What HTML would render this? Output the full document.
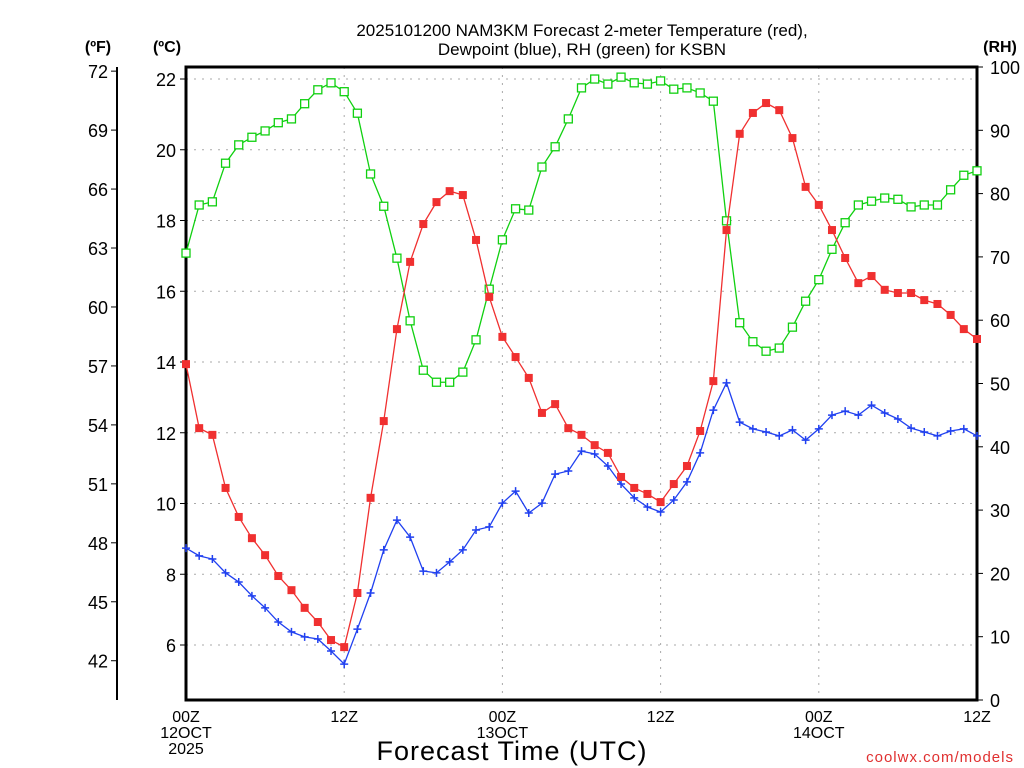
<!DOCTYPE html>
<html><head><meta charset="utf-8"><style>
html,body{margin:0;padding:0;background:#fff;width:1024px;height:768px;overflow:hidden}
svg text{font-family:"Liberation Sans","DejaVu Sans",sans-serif}
</style></head><body>
<svg id="chart" width="1024" height="768" xmlns="http://www.w3.org/2000/svg">
<text x="582" y="36" text-anchor="middle" font-size="17">2025101200 NAM3KM Forecast 2-meter Temperature (red),</text>
<text x="582" y="55" text-anchor="middle" font-size="17">Dewpoint (blue), RH (green) for KSBN</text>
<text x="98" y="52" text-anchor="middle" font-size="16" font-weight="bold">(ºF)</text>
<text x="167" y="52" text-anchor="middle" font-size="16" font-weight="bold">(ºC)</text>
<text x="1000" y="52" text-anchor="middle" font-size="16" font-weight="bold">(RH)</text>
<text x="512" y="760" text-anchor="middle" font-size="27" letter-spacing="1">Forecast Time (UTC)</text>
<text x="1014" y="762" text-anchor="end" font-size="15" fill="#e03030" letter-spacing="1">coolwx.com/models</text>
<g id="g"></g>
</svg>
<script>
const hours=[...Array(61).keys()];
const temp=[13.94,12.13,11.94,10.44,9.62,9.02,8.54,7.95,7.55,7.05,6.65,6.14,5.94,7.47,10.16,12.33,14.93,16.83,17.90,18.52,18.83,18.72,17.45,15.84,14.71,14.14,13.55,12.56,12.81,12.13,11.94,11.65,11.43,10.75,10.44,10.27,10.04,10.55,11.06,12.05,13.46,17.73,20.45,21.04,21.32,21.12,20.33,18.95,18.44,17.73,16.94,16.23,16.43,16.04,15.95,15.95,15.75,15.64,15.33,14.93,14.65];
const dewp=[8.74,8.52,8.43,8.04,7.78,7.39,7.05,6.65,6.37,6.23,6.17,5.83,5.46,6.45,7.47,8.69,9.53,9.05,8.09,8.04,8.35,8.69,9.25,9.34,10.01,10.35,9.73,10.01,10.83,10.92,11.48,11.40,11.06,10.55,10.16,9.90,9.76,10.10,10.61,11.43,12.64,13.41,12.30,12.11,12.02,11.91,12.08,11.79,12.11,12.50,12.61,12.50,12.78,12.56,12.39,12.13,12.02,11.91,12.05,12.11,11.91];
const rh=[70.6,78.2,78.7,84.8,87.7,88.9,89.9,91.2,91.8,94.2,96.4,97.5,96.1,92.7,83.1,78.0,69.8,59.9,52.1,50.2,50.2,51.8,56.9,64.9,72.7,77.6,77.4,84.2,87.4,91.8,96.7,98.1,97.3,98.4,97.5,97.3,97.8,96.5,96.7,95.9,94.6,75.7,59.6,56.6,55.1,55.6,58.9,63.0,66.4,71.2,75.4,78.2,78.8,79.3,79.1,77.9,78.2,78.2,80.6,82.9,83.6];
const cTicks=[6,8,10,12,14,16,18,20,22];
const fTicks=[42,45,48,51,54,57,60,63,66,69,72];
const rhTicks=[0,10,20,30,40,50,60,70,80,90,100];
const xTickHours=[0,12,24,36,48,60];
const xTickLabels=[["00Z","12OCT","2025"],["12Z"],["00Z","13OCT"],["12Z"],["00Z","14OCT"],["12Z"]];

const L=186,R=977,T=67,B=700;
const X=h=>L+(h/60)*(R-L);
const YC=c=>79+(22-c)*35.375;
const YF=f=>YC((f-32)*5/9);
const YR=r=>B-(r/100)*(B-T);
const g=document.getElementById('g');
const NS='http://www.w3.org/2000/svg';
function mk(tag,attrs,parent){const e=document.createElementNS(NS,tag);for(const k in attrs)e.setAttribute(k,attrs[k]);(parent||g).appendChild(e);return e;}

// grid
cTicks.forEach(c=>{const e=mk('line',{x1:L,x2:R,y1:YC(c),y2:YC(c),stroke:'#aaa','stroke-dasharray':'2,6'});

});
xTickHours.forEach(h=>{const e=mk('line',{x1:X(h),x2:X(h),y1:T,y2:B,stroke:'#aaa','stroke-dasharray':'2,6'});

});

// C axis labels
cTicks.forEach(c=>{const t=mk('text',{x:176,y:YC(c)+7,'text-anchor':'end','font-size':18});t.textContent=c;


mk('line',{x1:180,x2:186,y1:YC(c),y2:YC(c),stroke:'#000'});});
// F axis
const fa=mk('line',{x1:117,x2:117,y1:67,y2:700,stroke:'#000','stroke-width':2});


fTicks.forEach(f=>{const t=mk('text',{x:108,y:YF(f)+7,'text-anchor':'end','font-size':18});t.textContent=f;


mk('line',{x1:111,x2:117,y1:YF(f),y2:YF(f),stroke:'#000'});});
// RH axis
rhTicks.forEach(r=>{const t=mk('text',{x:990,y:YR(r)+7,'text-anchor':'start','font-size':18});t.textContent=r;


mk('line',{x1:977,x2:983,y1:YR(r),y2:YR(r),stroke:'#000'});});
// x labels
xTickHours.forEach((h,i)=>{xTickLabels[i].forEach((s,j)=>{const t=mk('text',{x:X(h),y:722+j*16,'text-anchor':'middle','font-size':16});t.textContent=s;

});});

// frame
const fr=mk('rect',{x:L,y:T,width:R-L,height:B-T,fill:'none',stroke:'#000','stroke-width':3});



// series
function series(vals,yf,color,marker,name){
  const pl=mk('polyline',{points:vals.map((v,i)=>X(hours[i])+','+yf(v)).join(' '),fill:'none',stroke:color,'stroke-width':1.3});
  
  
  vals.forEach((v,i)=>{const x=X(hours[i]),y=yf(v);let m;
    if(marker==='fill')m=mk('rect',{x:x-4,y:y-4,width:8,height:8,fill:color});
    else if(marker==='open')m=mk('rect',{x:x-4,y:y-4,width:8,height:8,fill:'#fff',stroke:color,'stroke-width':1.3});
    else m=mk('path',{d:`M${x-4},${y}H${x+4}M${x},${y-4}V${y+4}`,stroke:color,'stroke-width':1.5});
    
    });
}
series(rh,YR,'#10d010','open','rh');
series(dewp,YC,'#2040f0','plus','dewpoint');
series(temp,YC,'#f03030','fill','temperature');
</script>
</body></html>
